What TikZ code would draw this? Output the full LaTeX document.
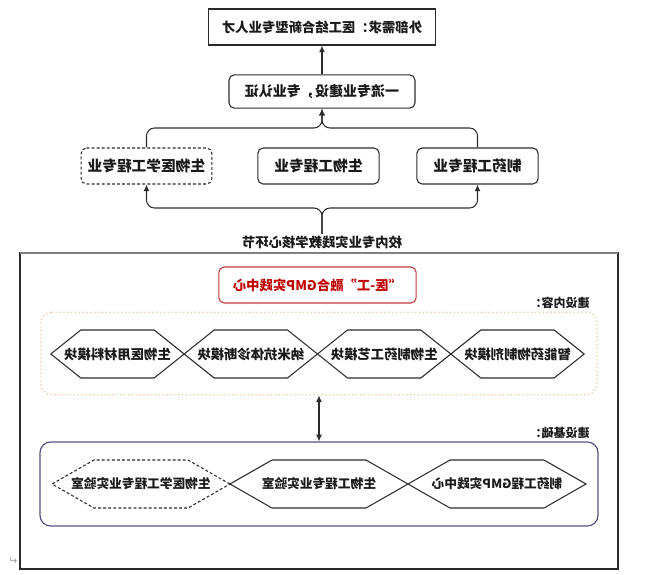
\documentclass[tikz,border=0pt]{standalone}
\usepackage{fontspec}
\setmainfont{Noto Sans CJK SC}
\newfontfamily\symfont{DejaVu Sans}
\usetikzlibrary{arrows.meta,positioning,calc}
\definecolor{Ink}{HTML}{1A1A1A}
\definecolor{Frame}{HTML}{2B2B2B}
\definecolor{GmpRed}{HTML}{C03A3A}
\definecolor{GmpText}{HTML}{C00000}
\definecolor{Peach}{HTML}{EFC39A}
\definecolor{Slate}{HTML}{56517E}
\definecolor{Mark}{HTML}{A0A0A0}
\tikzset{>=Latex,
 every node/.style={font=\bfseries,text=Ink,transform shape},
 arr/.style={-{Latex[length=5pt,width=4.5pt]},line width=.8pt,draw=Frame},
 dbl/.style={{Latex[length=5pt,width=4.5pt]}-{Latex[length=5pt,width=4.5pt]},line width=.8pt,draw=Frame},
 plain/.style={draw=Frame,line width=.8pt,minimum height=27pt,inner sep=2pt},
 card/.style={plain,rounded corners=4pt,font=\bfseries\fontsize{11}{13}\selectfont},
 dashline/.style={dashed,dash pattern=on 2.2pt off 1.6pt},
 hexline/.style={draw=Frame,line width=.8pt,line join=miter},
 mod/.style={minimum width=100pt,minimum height=36pt,inner sep=0pt,outer sep=0pt,font=\bfseries\fontsize{10}{12}\selectfont},
 lab/.style={minimum width=133.5pt,minimum height=36pt,inner sep=0pt,outer sep=0pt,font=\bfseries\fontsize{9.5}{11}\selectfont},
 tag/.style={anchor=west,inner sep=0pt,font=\bfseries\fontsize{9}{11}\selectfont},
 }
\begin{document}
\begin{tikzpicture}[x=.75pt,y=-.75pt,xscale=-1]
 \useasboundingbox (0,0) rectangle (648,574);
 % upper chain
 \node[plain,minimum width=170pt,font=\bfseries\fontsize{10}{12}\selectfont](need)at(326,27){外部需求：医工结合新型专业人才};
 \node[card,minimum width=139.5pt,minimum height=25pt,font=\bfseries\fontsize{10.5}{12}\selectfont](firstclass)at(326,91.5){一流专业建设，专业认证};
 \node[card,dashline,minimum width=98pt](bme)at(501.5,166){生物医学工程专业};
 \node[card,minimum width=91pt](bio)at(329.5,166){生物工程专业};
 \node[card,minimum width=91pt](pharm)at(170.5,166){制药工程专业};
 \node[inner sep=1pt,font=\bfseries\fontsize{10}{12}\selectfont](core)at(326,242){校内专业实践教学核心环节};
 \coordinate(upper)at(326,128);\coordinate(lower)at(326,208);
 \draw[arr](firstclass)--(need);
 \draw[arr,rounded corners=6pt](bme.north)|-(upper)--(firstclass.south);
 \draw[arr,rounded corners=6pt](pharm.north)|-(upper)--(firstclass.south);
 \draw[arr,rounded corners=6pt](core.north)--(lower)-|(bme.south);
 \draw[arr,rounded corners=6pt](core.north)--(lower)-|(pharm.south);
 % lower frame
 \draw[Frame,line width=.9pt](30,253)rectangle(628,569);
 \draw[Mark!80!black,line width=1.1pt](30,253)--(628,253);
 \node[draw=GmpRed,line width=.8pt,rounded corners=4pt,minimum width=148pt,minimum height=27pt,text=GmpText,font=\bfseries\fontsize{10}{12}\selectfont](gmp)at(330.5,285){“医-工”融合GMP实践中心};
 \node[tag](contenttag)at(58,303){建设内容：};
 \node[draw=Peach,dotted,line width=.9pt,rounded corners=8pt,minimum width=417pt,minimum height=62pt](content)at(329,353.5){};
 \node[mod](smart)at(130.5,354){智能药物制剂模块};
 \node[mod,right=0pt of smart](bioproc){生物制药工艺模块};
 \node[mod,right=0pt of bioproc](nano){纳米抗体诊断模块};
 \node[mod,right=0pt of nano](biomat){生物医用材料模块};
 \node[tag](basetag)at(58,433){建设基础：};
 \node[draw=Slate,line width=.9pt,rounded corners=8pt,minimum width=418.5pt,minimum height=63pt](base)at(329,484){};
 \draw[dbl](content.south)--(base.north);
 \node[lab](gmplab)at(151,484){制药工程GMP实践中心};
 \node[lab,right=0pt of gmplab](biolab){生物工程专业实验室};
 \node[lab,right=0pt of biolab](bmelab){生物医学工程专业实验室};
 % hexagon outlines
 \foreach \n/\d in {smart/22.5,bioproc/22.5,nano/22.5,biomat/22.5,gmplab/31.5,biolab/31.5}
  \draw[hexline](\n.west)--($(\n.north west)!\d pt!(\n.north east)$)--($(\n.north east)!\d pt!(\n.north west)$)
   --(\n.east)--($(\n.south east)!\d pt!(\n.south west)$)--($(\n.south west)!\d pt!(\n.south east)$)--cycle;
 \draw[hexline,dashline](bmelab.west)--($(bmelab.north west)!31.5pt!(bmelab.north east)$)--($(bmelab.north east)!31.5pt!(bmelab.north west)$)
   --(bmelab.east)--($(bmelab.south east)!31.5pt!(bmelab.south west)$)--($(bmelab.south west)!31.5pt!(bmelab.south east)$)--cycle;
 \node[text=Mark,inner sep=0pt,font=\symfont\fontsize{8}{8}\selectfont](mark)at(635,561){↵};
\end{tikzpicture}
\end{document}
